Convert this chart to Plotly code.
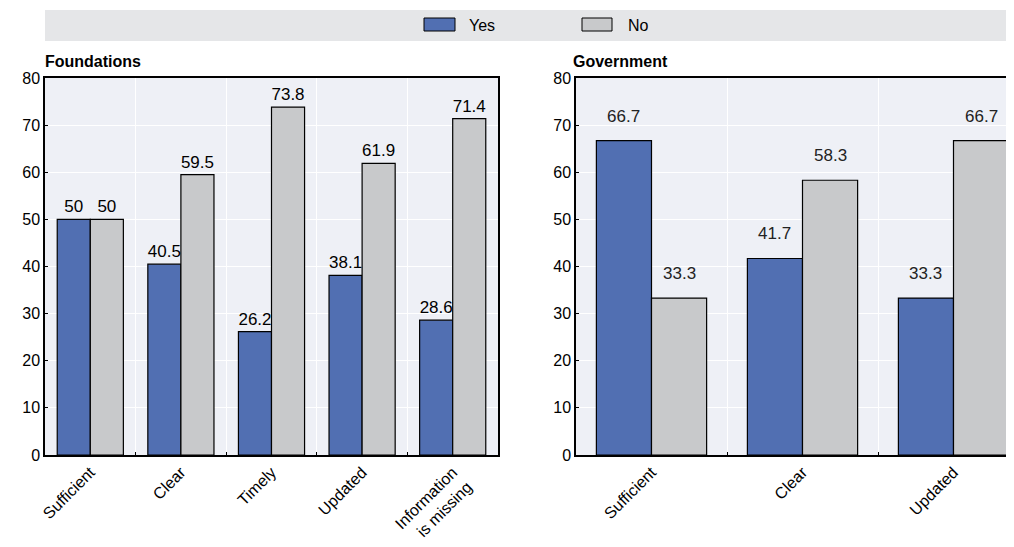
import plotly.graph_objects as go
from plotly.subplots import make_subplots

# Data
found_cats = ["Sufficient", "Clear", "Timely", "Updated", "Information<br>is missing"]
found_yes = [50, 40.5, 26.2, 38.1, 28.6]
found_no = [50, 59.5, 73.8, 61.9, 71.4]
found_yes_lbl = ["50", "40.5", "26.2", "38.1", "28.6"]
found_no_lbl = ["50", "59.5", "73.8", "61.9", "71.4"]

gov_cats = ["Sufficient", "Clear", "Updated"]
gov_yes = [66.7, 41.7, 33.3]
gov_no = [33.3, 58.3, 66.7]

series_names = ["Yes", "No"]
y_ticks = [0, 10, 20, 30, 40, 50, 60, 70, 80]

YES_C = "#516fb2"
NO_C = "#c8c9cb"
BG = "#eef0f6"
FONT = "Liberation Sans, Arial, sans-serif"

OFF = 8  # browser body margin
W, H = 1014 - OFF, 547 - 2 * OFF
L, T = 45 - OFF, 78 - OFF
R = 0
B = H - (455 - OFF)
PW = W - L - R
PH = H - T - B
RIGHT_PX = OFF + W  # screen x of the figure's right edge

def px_x(px):
    return (px - OFF - L) / PW

def px_y(py):
    return (455 - py) / PH

fig = make_subplots(rows=1, cols=2, horizontal_spacing=0.01)
fig.update_layout(
    xaxis=dict(domain=[0, px_x(498)]),
    xaxis2=dict(domain=[px_x(576), 1]),
)

line = dict(color="black", width=1.2)
fig.add_trace(go.Bar(x=found_cats, y=found_yes, name=series_names[0], marker=dict(color=YES_C, line=line),
                     text=found_yes_lbl, textposition="outside", cliponaxis=False,
                     textfont=dict(size=17, color="black", family=FONT), showlegend=False), row=1, col=1)
fig.add_trace(go.Bar(x=found_cats, y=found_no, name=series_names[1], marker=dict(color=NO_C, line=line),
                     text=found_no_lbl, textposition="outside", cliponaxis=False,
                     textfont=dict(size=17, color="black", family=FONT), showlegend=False), row=1, col=1)
fig.add_trace(go.Bar(x=gov_cats, y=gov_yes, name=series_names[0], marker=dict(color=YES_C, line=line),
                     showlegend=False), row=1, col=2)
fig.add_trace(go.Bar(x=gov_cats, y=gov_no, name=series_names[1], marker=dict(color=NO_C, line=line),
                     showlegend=False), row=1, col=2)

annotations = []
# Government value labels (placed higher above bars)
for i, c in enumerate(gov_cats):
    for v, off in ((gov_yes[i], -0.1835), (gov_no[i], 0.1835)):
        annotations.append(dict(x=i + off, y=v, xref="x2", yref="y2", text=f"{v:.1f}",
                                showarrow=False, yanchor="bottom", yshift=13,
                                font=dict(size=17, color="#222", family=FONT)))

# Subplot titles
annotations.append(dict(x=0, y=px_y(62), xref="paper", yref="paper", text="<b>Foundations</b>",
                        showarrow=False, xanchor="left", yanchor="middle", xshift=-2,
                        font=dict(size=16, color="black", family=FONT)))
annotations.append(dict(x=px_x(573), y=px_y(62), xref="paper", yref="paper", text="<b>Government</b>",
                        showarrow=False, xanchor="left", yanchor="middle", xshift=-2,
                        font=dict(size=16, color="black", family=FONT)))

# Legend texts
annotations.append(dict(x=px_x(469), y=px_y(25), xref="paper", yref="paper", text=series_names[0],
                        showarrow=False, xanchor="left", yanchor="middle", xshift=-2,
                        font=dict(size=16, color="black", family=FONT)))
annotations.append(dict(x=px_x(628), y=px_y(25), xref="paper", yref="paper", text=series_names[1],
                        showarrow=False, xanchor="left", yanchor="middle", xshift=-2,
                        font=dict(size=16, color="black", family=FONT)))

shapes = [
    dict(type="rect", xref="paper", yref="paper", x0=0, x1=1, y0=px_y(41), y1=px_y(10),
         fillcolor="#e5e6e8", line=dict(width=0), layer="below"),
    dict(type="rect", xref="paper", yref="paper", x0=px_x(424), x1=px_x(455), y0=px_y(31), y1=px_y(18),
         fillcolor=YES_C, line=dict(color="black", width=1)),
    dict(type="rect", xref="paper", yref="paper", x0=px_x(582), x1=px_x(612), y0=px_y(31), y1=px_y(18),
         fillcolor=NO_C, line=dict(color="black", width=1)),
]

fig.update_layout(
    width=W, height=H,
    margin=dict(l=L, r=R, t=T, b=B, autoexpand=False),
    paper_bgcolor="white",
    plot_bgcolor=BG,
    barmode="group",
    bargap=0.27,
    bargroupgap=0,
    annotations=annotations,
    shapes=shapes,
    font=dict(family=FONT, size=16, color="black"),
)

# right panel: 151 px per category in the reference, axis cut at the figure edge
gov_right = -0.5 + (RIGHT_PX - 576) / 151.0

xcommon = dict(showgrid=True, gridcolor="white", gridwidth=1, tickson="boundaries",
               ticks="inside", ticklen=3, tickcolor="black", tickangle=-45, automargin=False,
               tickfont=dict(size=16, family=FONT, color="black"),
               showline=True, linecolor="black", linewidth=1.5, mirror=True)
ycommon = dict(range=[0, 80], tickvals=y_ticks, showgrid=True, gridcolor="white", gridwidth=1,
               ticks="inside", ticklen=3, tickcolor="black", zeroline=False, automargin=False,
               tickfont=dict(size=16, family=FONT, color="black"),
               showline=True, linecolor="black", linewidth=1.5)

fig.update_xaxes(**xcommon, range=[-0.5, 4.5], row=1, col=1)
fig.update_xaxes(**xcommon, range=[-0.5, gov_right], row=1, col=2)
fig.update_yaxes(**ycommon, mirror=True, row=1, col=1)
fig.update_yaxes(**ycommon, mirror=False, row=1, col=2)

fig.write_html("out.html")
